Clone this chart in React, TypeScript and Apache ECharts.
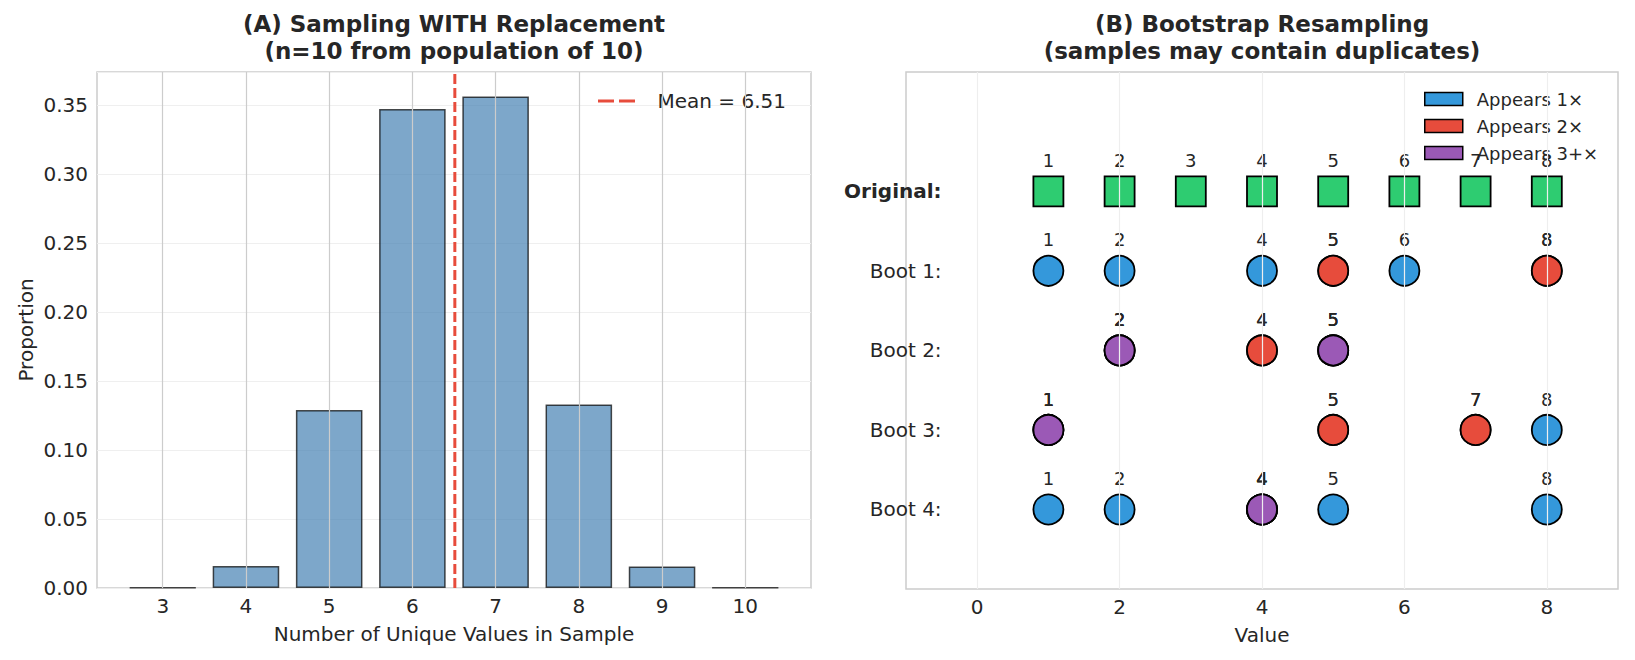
import React, { useEffect, useRef } from "react";
import * as echarts from "echarts";

// ---- Panel A data ----
const uniqueCounts = [3, 4, 5, 6, 7, 8, 9, 10];
const proportions = [0.0003, 0.016, 0.129, 0.347, 0.356, 0.133, 0.0155, 0.0002];
const meanUnique = 6.51;
const yTickStep = 0.05;

// ---- Panel B data ----
const originalValues = [1, 2, 3, 4, 5, 6, 7, 8];
const rowNames = ["Original:", "Boot 1:", "Boot 2:", "Boot 3:", "Boot 4:"];
const boot1 = [1, 2, 4, 5, 5, 6, 8, 8];
const boot2 = [2, 2, 2, 4, 4, 5, 5, 5];
const boot3 = [1, 1, 1, 5, 5, 7, 7, 8];
const boot4 = [1, 2, 4, 4, 4, 4, 5, 8];
const bootSamples = [boot1, boot2, boot3, boot4];
const rightXTicks = [0, 2, 4, 6, 8];
const countNames = ["Appears 1×", "Appears 2×", "Appears 3+×"];

const FONT = "DejaVu Sans";
const TXT = "#262626";
const C_BLUE = "#3498db";
const C_RED = "#e74c3c";
const C_PURPLE = "#9b59b6";
const C_GREEN = "#2ecc71";

export default function App() {
  const ref = useRef<HTMLDivElement>(null);

  useEffect(() => {
    if (!ref.current) return;
    const chart = echarts.init(ref.current, undefined, { renderer: "svg" });

    // Panel A limits (matplotlib-like margins)
    const barW = 0.8;
    const span = uniqueCounts[uniqueCounts.length - 1] - uniqueCounts[0] + barW;
    const xMinA = uniqueCounts[0] - barW / 2 - 0.05 * span;
    const xMaxA = uniqueCounts[uniqueCounts.length - 1] + barW / 2 + 0.05 * span;
    const yMaxA = Math.max(...proportions) * 1.05;

    const gridA = { left: 97, top: 72, width: 714, height: 516 };
    const gridB = { left: 906, top: 72, width: 712, height: 517 };
    const barPx = (barW * gridA.width) / (xMaxA - xMinA);

    const meanName = `Mean = ${meanUnique.toFixed(2)}`;

    // Panel B rows: Original at top (y=4), Boot 1..4 below
    const nRows = rowNames.length;
    const rowY = (i: number) => nRows - 1 - i;
    const byCount: number[][][] = [[], [], []];
    bootSamples.forEach((s, bi) => {
      const y = rowY(bi + 1);
      s.forEach((v) => {
        const c = s.filter((w) => w === v).length;
        const k = c >= 3 ? 2 : c - 1;
        byCount[k].push([v, y]);
      });
    });
    const countColors = [C_BLUE, C_RED, C_PURPLE];

    const numLabel = {
      show: true,
      position: "top",
      distance: 6,
      fontSize: 18,
      color: TXT,
      fontFamily: FONT,
      formatter: (p: any) => String(p.value[0]),
    };

    const titleStyle = { fontSize: 23, fontWeight: "bold", color: TXT, lineHeight: 27, fontFamily: FONT };

    const option: any = {
      animation: false,
      backgroundColor: "#ffffff",
      textStyle: { fontFamily: FONT, color: TXT },
      title: [
        {
          text: "(A) Sampling WITH Replacement\n(n=10 from population of 10)",
          left: gridA.left + gridA.width / 2,
          top: 10,
          textAlign: "center",
          padding: 0,
          textStyle: titleStyle,
        },
        {
          text: "(B) Bootstrap Resampling\n(samples may contain duplicates)",
          left: gridB.left + gridB.width / 2,
          top: 10,
          textAlign: "center",
          padding: 0,
          textStyle: titleStyle,
        },
      ],
      legend: [
        {
          data: [{ name: meanName, icon: "path://M0,0h16v3h-16z M21,0h16v3h-16z" }],
          left: 593,
          top: 86,
          itemWidth: 38,
          itemHeight: 3,
          selectedMode: false,
          itemStyle: { color: C_RED, borderWidth: 0 },
          textStyle: { fontSize: 20, color: TXT, fontFamily: FONT, padding: [0, 0, 0, 17] },
        },
        {
          data: countNames,
          orient: "vertical",
          left: 1419,
          top: 85,
          itemWidth: 38,
          itemHeight: 13,
          itemGap: 9,
          icon: "rect",
          selectedMode: false,
          itemStyle: { borderColor: "#000", borderWidth: 1.5 },
          textStyle: { fontSize: 18, color: TXT, fontFamily: FONT, padding: [0, 0, 0, 9] },
        },
      ],
      grid: [
        { ...gridA, show: true, borderColor: "#cccccc", borderWidth: 1.5, backgroundColor: "#fff" },
        { ...gridB, show: true, borderColor: "#cccccc", borderWidth: 1.5, backgroundColor: "#fff" },
      ],
      xAxis: [
        {
          type: "value",
          gridIndex: 0,
          min: xMinA,
          max: xMaxA,
          axisLine: { show: false },
          axisTick: { show: false },
          splitLine: { show: false },
          axisLabel: {
            customValues: uniqueCounts,
            fontSize: 20,
            color: TXT,
            margin: 8,
            formatter: (v: number) => String(v),
          },
          name: "Number of Unique Values in Sample",
          nameLocation: "middle",
          nameGap: 36,
          nameTextStyle: { fontSize: 20, color: TXT },
        },
        {
          type: "value",
          gridIndex: 1,
          min: -1,
          max: 9,
          axisLine: { show: false },
          axisTick: { show: false },
          splitLine: { show: false },
          axisLabel: {
            customValues: rightXTicks,
            fontSize: 20,
            color: TXT,
            margin: 8,
            formatter: (v: number) => String(v),
          },
          name: "Value",
          nameLocation: "middle",
          nameGap: 36,
          nameTextStyle: { fontSize: 20, color: TXT },
        },
      ],
      yAxis: [
        {
          type: "value",
          gridIndex: 0,
          min: 0,
          max: yMaxA,
          interval: yTickStep,
          axisLine: { show: false },
          axisTick: { show: false },
          splitLine: { show: true, lineStyle: { color: "#efefef", width: 1.2 } },
          axisLabel: {
            fontSize: 20,
            color: TXT,
            margin: 9,
            formatter: (v: number) =>
              Math.abs(v / yTickStep - Math.round(v / yTickStep)) < 1e-6 ? v.toFixed(2) : "",
          },
          name: "Proportion",
          nameLocation: "middle",
          nameRotate: 90,
          nameGap: 61,
          nameTextStyle: { fontSize: 20, color: TXT },
        },
        {
          type: "value",
          gridIndex: 1,
          min: -1,
          max: nRows + 0.5,
          axisLine: { show: false },
          axisTick: { show: false },
          splitLine: { show: false },
          axisLabel: { show: false },
        },
      ],
      series: [
        {
          name: "gridA",
          type: "line",
          xAxisIndex: 0,
          yAxisIndex: 0,
          data: [],
          silent: true,
          z: 1,
          markLine: {
            silent: true,
            symbol: ["none", "none"],
            label: { show: false },
            lineStyle: { color: "#cccccc", width: 1.2, type: "solid" },
            data: uniqueCounts.map((c) => ({ xAxis: c })),
          },
        },
        {
          name: "Proportion",
          type: "bar",
          xAxisIndex: 0,
          yAxisIndex: 0,
          data: uniqueCounts.map((c, i) => [c, proportions[i]]),
          barWidth: barPx,
          itemStyle: { color: "rgba(70,130,180,0.7)", borderColor: "rgba(0,0,0,0.7)", borderWidth: 1.5 },
          z: 2,
        },
        {
          name: meanName,
          type: "line",
          xAxisIndex: 0,
          yAxisIndex: 0,
          data: [
            [meanUnique, 0],
            [meanUnique, yMaxA],
          ],
          symbol: "none",
          lineStyle: { color: C_RED, width: 3, type: [10, 4] },
          itemStyle: { color: C_RED },
          z: 3,
        },
        {
          name: "gridB",
          type: "line",
          xAxisIndex: 1,
          yAxisIndex: 1,
          data: [],
          silent: true,
          z: 1,
          markLine: {
            silent: true,
            symbol: ["none", "none"],
            label: { show: false },
            lineStyle: { color: "#eeeeee", width: 1.2, type: "solid" },
            data: rightXTicks.map((c) => ({ xAxis: c })),
          },
        },
        {
          name: "Original",
          type: "scatter",
          xAxisIndex: 1,
          yAxisIndex: 1,
          symbol: "rect",
          symbolSize: 30,
          data: originalValues.map((v) => [v, rowY(0)]),
          itemStyle: { color: C_GREEN, borderColor: "#000", borderWidth: 1.8, opacity: 1 },
          label: numLabel,
          z: 3,
        },
        ...countNames.map((nm, k) => ({
          name: nm,
          type: "scatter",
          xAxisIndex: 1,
          yAxisIndex: 1,
          symbol: "circle",
          symbolSize: 30,
          data: byCount[k],
          itemStyle: { color: countColors[k], borderColor: "#000", borderWidth: 1.8, opacity: 1 },
          label: numLabel,
          z: 3,
        })),
        {
          name: "rowLabels",
          type: "scatter",
          xAxisIndex: 1,
          yAxisIndex: 1,
          symbolSize: 0,
          silent: true,
          clip: false,
          itemStyle: { opacity: 1 },
          data: rowNames.map((n, i) => ({
            value: [-0.5, rowY(i)],
            name: n,
            label: { fontWeight: i === 0 ? "bold" : "normal" },
          })),
          label: {
            show: true,
            position: "left",
            distance: 0,
            fontSize: 20,
            color: TXT,
            opacity: 1,
            fontFamily: FONT,
            formatter: (p: any) => p.name,
          },
          z: 4,
        },
      ],
    };

    chart.setOption(option);
    return () => chart.dispose();
  }, []);

  return (
    <div
      ref={ref}
      style={{ position: "fixed", left: 0, top: 0, width: 1635, height: 660, background: "#fff" }}
    />
  );
}
